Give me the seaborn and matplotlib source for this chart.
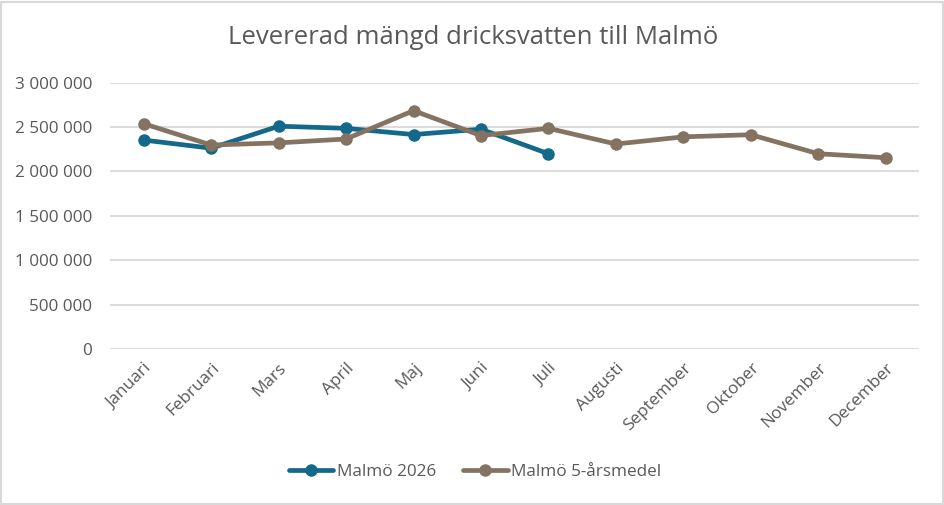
import numpy as np
import pandas as pd
import matplotlib
matplotlib.use('Agg')
import matplotlib.pyplot as plt
import seaborn as sns
from matplotlib.ticker import FuncFormatter
from matplotlib.patches import Rectangle

# data
months = ['Januari', 'Februari', 'Mars', 'April', 'Maj', 'Juni', 'Juli',
          'Augusti', 'September', 'Oktober', 'November', 'December']
malmo_2026 = [2354000, 2262000, 2510000, 2486000, 2416000, 2476000, 2200000]
malmo_5ar = [2538000, 2298000, 2322000, 2366000, 2685000, 2404000, 2486000,
             2309000, 2390000, 2414000, 2200000, 2155000]
series_names = ['Malmö 2026', 'Malmö 5-årsmedel']
colors = ['#14698A', '#857362']
y_ticks = [0, 500000, 1000000, 1500000, 2000000, 2500000, 3000000]

txt = '#595959'
grid_c = '#D9D9D9'

df = pd.concat([
    pd.DataFrame({'month': months[:len(malmo_2026)], 'idx': range(len(malmo_2026)),
                  'value': malmo_2026, 'serie': series_names[0]}),
    pd.DataFrame({'month': months, 'idx': range(len(months)),
                  'value': malmo_5ar, 'serie': series_names[1]}),
], ignore_index=True)

sns.set_theme(style='white')
plt.rcParams['font.family'] = ['Open Sans', 'DejaVu Sans']

fig = plt.figure(figsize=(9.45, 5.05), dpi=100)
ax = fig.add_axes([110/945, 1-349/505, (919.4-110)/945, (349-82.7)/505])

sns.lineplot(data=df, x='idx', y='value', hue='serie', palette=colors,
             marker='o', markersize=9, markeredgewidth=0, linewidth=3.4,
             ax=ax, legend=False, zorder=3)

ax.set_xlim(-0.5, len(months) - 0.5)
ax.set_ylim(0, 3000000)
ax.set_yticks(y_ticks)
ax.yaxis.set_major_formatter(FuncFormatter(lambda v, p: f'{v:,.0f}'.replace(',', ' ')))
ax.set_xticks(range(len(months)))
ax.set_xticklabels(months, rotation=45, ha='right', rotation_mode='anchor')
ax.tick_params(axis='both', length=0, labelsize=12.3, colors=txt)
ax.tick_params(axis='y', pad=13)
ax.tick_params(axis='x', pad=8)
ax.grid(axis='y', color=grid_c, linewidth=1.3)
ax.set_axisbelow(True)
for s in ax.spines.values():
    s.set_visible(False)
ax.set_xlabel('')
ax.set_ylabel('')

fig.text(473/945, 1-37/505, 'Levererad mängd dricksvatten till Malmö',
         ha='center', va='center', fontsize=18.5, color=txt)

handles = [plt.Line2D([], [], color=c, linewidth=3.4, marker='o', markersize=9,
                      markeredgewidth=0) for c in colors]
fig.legend(handles, series_names, loc='center', bbox_to_anchor=(475/945, 1-472/505),
           ncol=2, frameon=False, fontsize=12.3, labelcolor=txt,
           handlelength=2.6, handletextpad=0.2, columnspacing=1.6)

fig.patches.append(Rectangle((1.5/945, 1.5/505), 1-3/945, 1-3/505, transform=fig.transFigure,
                             fill=False, edgecolor=grid_c, linewidth=1.5))

fig.savefig('out.png', dpi=100)
